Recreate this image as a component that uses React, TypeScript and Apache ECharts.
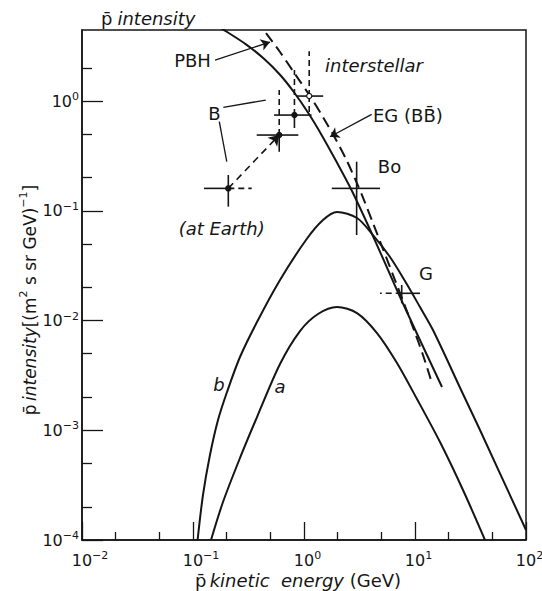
import { useEffect, useRef } from 'react';
import * as echarts from 'echarts';

// ---------- axes ----------
const xMajorTicks = [0.01, 0.1, 1, 10, 100];
const xMinorTicks = [0.02, 0.05, 0.2, 0.5, 2, 5, 20, 50];
const yMajorTicks = [0.0001, 0.001, 0.01, 0.1, 1];
const yMinorTicks = [0.0002, 0.0005, 0.002, 0.005, 0.02, 0.05, 0.2, 0.5, 2];
const xMin = 0.01;
const xMax = 100;
const yMin = 0.0001;
const yMax = 4.44;

// ---------- curves (energy GeV, intensity) ----------
const solidEnergy = [0.1365, 0.1903, 0.3002, 0.4362, 0.608, 0.8125, 1.086, 1.453, 1.942, 2.706, 4.361, 7.796, 17.51];
const solidIntensity = [5.425, 4.436, 3.286, 2.429, 1.736, 1.203, 0.7857, 0.4839, 0.2852, 0.1514, 0.05356, 0.01428, 0.002477];

const dashedEnergy = [0.4547, 0.608, 0.8297, 1.133, 1.483, 1.903, 2.39, 2.941, 3.471, 4.183, 5.149, 6.603, 8.126, 9.795, 11.8, 13.94];
const dashedIntensity = [4.166, 2.796, 1.762, 1.11, 0.7148, 0.4602, 0.2962, 0.1866, 0.1253, 0.07735, 0.04482, 0.02339, 0.01355, 0.00819, 0.004849, 0.00287];

const curveBEnergy = [0.11, 0.123, 0.1422, 0.168, 0.2025, 0.2651, 0.3773, 0.608, 1.042, 1.483, 1.983, 3.003, 4.183, 5.954, 8.126, 11.09, 14.52, 27.06, 38.5, 100];
const curveBIntensity = [0.0001, 0.000257, 0.000595, 0.00124, 0.00223, 0.00465, 0.00969, 0.02339, 0.05414, 0.0823, 0.0974, 0.0859, 0.0601, 0.03791, 0.0229, 0.01327, 0.00819, 0.002138, 0.001005, 0.0001233];

const curveAEnergy = [0.1453, 0.1863, 0.2651, 0.3773, 0.608, 0.9204, 1.337, 1.983, 3.003, 4.547, 6.883, 10.42, 16.8, 27.06, 42.72];
const curveAIntensity = [0.0001, 0.0002219, 0.000559, 0.00132, 0.004015, 0.00802, 0.01146, 0.01327, 0.0117, 0.00769, 0.0041, 0.001926, 0.000781, 0.0002855, 0.0001];

// ---------- measured points with error bars ----------
const pointEnergy = [0.208, 0.598, 0.82, 1.114, 2.98, 7.59];
const pointIntensity = [0.16, 0.49, 0.745, 1.11, 0.16, 0.0177];
const energyLow = [0.1256, 0.375, 0.537, 0.857, 1.78, 4.84];
const energyHigh = [0.338, 0.889, 1.17, 1.49, 4.84, 11.1];
const intensityLow = [0.109, 0.345, 0.568, 0.794, 0.0601, 0.01435];
const intensityHigh = [0.212, 1.26, 1.92, 2.85, 0.28, 0.0211];

// ---------- styling ----------
const INK = '#151515';
const FONT = "'DejaVu Sans', sans-serif";
const barLook = [
  { left: 's', right: 'd', up: 's', down: 's', dot: 'fill' },
  { left: 's', right: 's', up: 'd', down: 's', dot: 'fill' },
  { left: 's', right: 's', up: 'd', down: 's', dot: 'fill' },
  { left: 's', right: 's', up: 'd', down: 'd', dot: 'open' },
  { left: 's', right: 's', up: 's', down: 's', dot: 'none' },
  { left: 'd', right: 's', up: 's', down: 's', dot: 'none' },
];

const pair = (xs: number[], ys: number[]) => xs.map((x, i) => [x, ys[i]]);

const supText = (v: number) => {
  const e = Math.round(Math.log10(v));
  return e < 0 ? '\u2212' + -e : String(e);
};

const tickRich = {
  b: { fontSize: 16, fontFamily: FONT, color: INK, lineHeight: 20 },
  s: { fontSize: 11, fontFamily: FONT, color: INK, lineHeight: 10, verticalAlign: 'top' },
  pad1: { width: 7, fontSize: 11, lineHeight: 10 },
  pad2: { width: 16, fontSize: 11, lineHeight: 10 },
};

const nameRich = {
  n: { fontSize: 18, fontFamily: FONT, color: INK, fontWeight: 'normal', lineHeight: 20 },
  i: { fontSize: 18, fontFamily: FONT, color: INK, fontWeight: 'normal', fontStyle: 'italic', lineHeight: 20 },
  s: { fontSize: 11, fontFamily: FONT, color: INK, lineHeight: 12, verticalAlign: 'top' },
};
const yNameRich = {
  n: { fontSize: 17, fontFamily: FONT, color: INK, lineHeight: 24 },
  i: { fontSize: 17, fontFamily: FONT, color: INK, fontStyle: 'italic', lineHeight: 24 },
  s: { fontSize: 11, fontFamily: FONT, color: INK, lineHeight: 12, verticalAlign: 'top' },
};

const txt = (text: string, x: number, y: number, opts: any = {}) => ({
  type: 'text',
  x,
  y,
  silent: true,
  style: {
    text,
    fill: INK,
    fontSize: 18,
    fontFamily: FONT,
    fontStyle: opts.italic ? 'italic' : 'normal',
    textAlign: opts.align || 'center',
    textVerticalAlign: 'middle',
  },
});

export default function App() {
  const ref = useRef<HTMLDivElement>(null);

  useEffect(() => {
    if (!ref.current) return;
    const chart = echarts.init(ref.current, undefined, { renderer: 'svg' });

    const baseX = {
      type: 'log',
      logBase: 10,
      min: xMin,
      max: xMax,
      splitLine: { show: false },
      position: 'bottom',
    };
    const baseY = {
      type: 'log',
      logBase: 10,
      min: yMin,
      max: yMax,
      splitLine: { show: false },
      position: 'left',
    };

    const lineSeries = (name: string, xs: number[], ys: number[], dashed = false) => ({
      type: 'line',
      name,
      data: pair(xs, ys),
      showSymbol: false,
      symbol: 'none',
      smooth: 0.3,
      clip: true,
      lineStyle: { color: INK, width: 2, type: dashed ? [11, 6] : 'solid' },
      z: 3,
    });

    const option: any = {
      animation: false,
      backgroundColor: '#ffffff',
      title: {
        text: '{n|p\u0304} {i|intensity}',
        left: 96,
        top: 3,
        textStyle: { fontWeight: 'normal', rich: nameRich },
      },
      grid: {
        left: 82,
        right: 16,
        top: 30,
        bottom: 51,
        show: true,
        outerBoundsMode: 'none',
        containLabel: false,
        borderColor: INK,
        borderWidth: 1.5,
        backgroundColor: 'transparent',
      },
      xAxis: [
        {
          ...baseX,
          name: '{n|p\u0304} {i|kinetic  energy}{n| (GeV)}',
          nameLocation: 'middle',
          nameGap: 30,
          nameMoveOverlap: false,
          nameTextStyle: { rich: nameRich, padding: [0, 12, 0, 0] },
          axisLine: { show: true, lineStyle: { color: INK, width: 1.5 } },
          axisTick: { show: true, inside: true, length: 18, lineStyle: { color: INK, width: 1.3 }, customValues: xMajorTicks },
          axisLabel: {
            show: true,
            margin: 10,
            customValues: xMajorTicks,
            formatter: (v: number) => {
              const s = supText(v);
              return `{pad${s.length}|\u00a0}{b|10}{s|${s}}`;
            },
            rich: tickRich,
          },
        },
        {
          ...baseX,
          axisLine: { show: false },
          axisTick: { show: true, inside: true, length: 8, lineStyle: { color: INK, width: 1.3 }, customValues: xMinorTicks },
          axisLabel: { show: false },
        },
      ],
      yAxis: [
        {
          ...baseY,
          name: '{n|p\u0304} {i|intensity}{n|[(m}{s|2}{n| s sr GeV)}{s|\u22121}{n|]}',
          nameLocation: 'middle',
          nameRotate: 90,
          nameGap: 40,
          nameMoveOverlap: false,
          nameTextStyle: { rich: yNameRich, padding: [0, 30, 0, 0] },
          axisLine: { show: true, lineStyle: { color: INK, width: 1.5 } },
          axisTick: { show: true, inside: true, length: 21, lineStyle: { color: INK, width: 1.3 }, customValues: yMajorTicks },
          axisLabel: {
            show: true,
            margin: 3,
            customValues: yMajorTicks,
            formatter: (v: number) => `{b|10}{s|${supText(v)}}`,
            rich: tickRich,
          },
        },
        {
          ...baseY,
          axisLine: { show: false },
          axisTick: { show: true, inside: true, length: 10, lineStyle: { color: INK, width: 1.3 }, customValues: yMinorTicks },
          axisLabel: { show: false },
        },
      ],
      series: [
        lineSeries('interstellar', solidEnergy, solidIntensity),
        lineSeries('PBH', dashedEnergy, dashedIntensity, true),
        lineSeries('b', curveBEnergy, curveBIntensity),
        lineSeries('a', curveAEnergy, curveAIntensity),
        {
          type: 'custom',
          name: 'data',
          xAxisIndex: 0,
          yAxisIndex: 0,
          z: 4,
          encode: { x: [0, 2, 3], y: [1, 4, 5] },
          data: pointEnergy.map((e, i) => [e, pointIntensity[i], energyLow[i], energyHigh[i], intensityLow[i], intensityHigh[i]]),
          renderItem: (params: any, api: any) => {
            const look = barLook[params.dataIndex];
            const c = api.coord([api.value(0), api.value(1)]);
            const l = api.coord([api.value(2), api.value(1)]);
            const r = api.coord([api.value(3), api.value(1)]);
            const lo = api.coord([api.value(0), api.value(4)]);
            const hi = api.coord([api.value(0), api.value(5)]);
            const seg = (a: number[], b: number[], kind: string) => ({
              type: 'line',
              shape: { x1: a[0], y1: a[1], x2: b[0], y2: b[1] },
              style: { stroke: INK, lineWidth: 1.6, lineDash: kind === 'd' ? [6, 4] : null, fill: null },
            });
            const children: any[] = [seg(c, l, look.left), seg(c, r, look.right), seg(c, hi, look.up), seg(c, lo, look.down)];
            if (look.dot !== 'none') {
              children.push({
                type: 'circle',
                shape: { cx: c[0], cy: c[1], r: 2.6 },
                style: { fill: look.dot === 'fill' ? INK : '#fff', stroke: INK, lineWidth: 1.2 },
              });
            }
            return { type: 'group', children };
          },
        },
        {
          type: 'lines',
          name: 'arrows',
          coordinateSystem: 'cartesian2d',
          xAxisIndex: 0,
          yAxisIndex: 0,
          z: 5,
          symbol: ['none', 'arrow'],
          symbolSize: 9,
          lineStyle: { color: INK, width: 1.3, opacity: 1, curveness: 0 },
          data: [
            { coords: [[0.158, 2.364], [0.494, 3.45]] },
            { coords: [[4.07, 0.756], [1.715, 0.473]] },
          ],
        },
        {
          type: 'lines',
          name: 'earth-to-interstellar',
          coordinateSystem: 'cartesian2d',
          xAxisIndex: 0,
          yAxisIndex: 0,
          z: 5,
          symbol: ['none', 'arrow'],
          symbolSize: 10,
          lineStyle: { color: INK, width: 1.6, opacity: 1, type: [7, 5], curveness: 0 },
          data: [{ coords: [[pointEnergy[0], pointIntensity[0]], [pointEnergy[1], pointIntensity[1]]] }],
        },
        {
          type: 'lines',
          name: 'leaders',
          coordinateSystem: 'cartesian2d',
          xAxisIndex: 0,
          yAxisIndex: 0,
          z: 5,
          symbol: ['none', 'none'],
          lineStyle: { color: INK, width: 1.3, opacity: 1, curveness: 0 },
          data: [
            { coords: [[0.1875, 0.876], [0.452, 1.02]] },
            { coords: [[0.1726, 0.648], [0.2015, 0.28]] },
          ],
        },
      ],
      graphic: [
        txt('PBH', 192.5, 60),
        txt('interstellar', 325, 65, { italic: true, align: 'left' }),
        txt('B', 214.5, 113.5),
        txt('EG (BB\u0304)', 373, 115.5, { align: 'left' }),
        txt('Bo', 389.5, 166),
        txt('(at Earth)', 221.7, 228, { italic: true }),
        txt('G', 426, 273),
        txt('b', 219, 384, { italic: true }),
        txt('a', 280, 386, { italic: true }),
      ],
    };

    chart.setOption(option);
    return () => chart.dispose();
  }, []);

  return <div ref={ref} style={{ position: 'absolute', left: 0, top: 0, width: 542, height: 591 }} />;
}
